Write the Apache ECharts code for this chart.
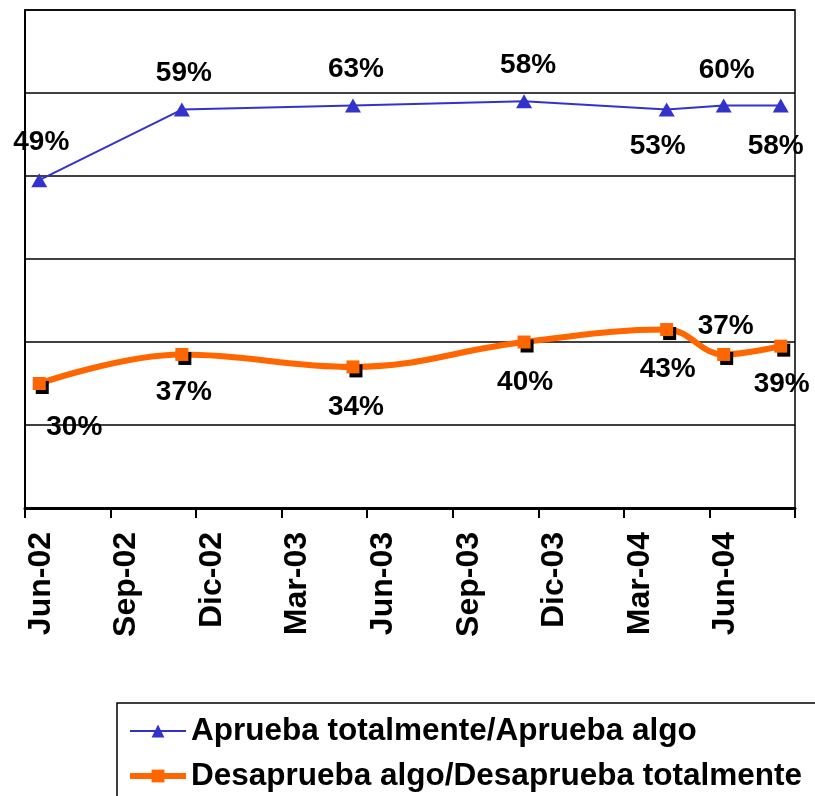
<!DOCTYPE html>
<html>
<head>
<meta charset="utf-8">
<script src="https://cdn.jsdelivr.net/npm/echarts@6/dist/echarts.min.js"></script>
<style>
  html, body { margin: 0; padding: 0; background: #fff; }
  #chart { width: 815px; height: 796px; }
</style>
</head>
<body>
<div id="chart"></div>
<script>
// Survey months (year-month) and results, in percent
const surveyMonths = ['2002-06', '2002-11', '2003-05', '2003-11', '2004-04', '2004-06', '2004-08'];
const aprueba    = [49, 59, 63, 58, 53, 60, 58];
const desaprueba = [30, 37, 34, 40, 43, 37, 39];

// Quarterly tick labels along the time axis, starting at June 2002
const tickLabels = ['Jun-02', 'Sep-02', 'Dic-02', 'Mar-03', 'Jun-03', 'Sep-03', 'Dic-03', 'Mar-04', 'Jun-04'];

const seriesNames = ['Aprueba totalmente/Aprueba algo', 'Desaprueba algo/Desaprueba totalmente'];

// Months elapsed since June 2002; each survey sits in the middle of its month
const startYear = 2002, startMonth = 6;
function monthPos(ym) {
  const [y, m] = ym.split('-').map(Number);
  return (y - startYear) * 12 + (m - startMonth) + 0.5;
}

// Label placement per point: [dx, dy] from the marker centre
const apruebaLabelOffsets    = [[2, -38], [2, -36], [3, -36], [4, -36], [-9, 37], [3, -35], [-5, 41]];
const desapruebaLabelOffsets = [[35, 44], [2, 38], [3, 40], [1, 40], [1, 40], [2, -28], [1, 38]];

// Items are stored as [percent, monthPosition] so that the stack is taken
// on the percent dimension (the first numeric one); encode maps them to y / x.
function buildData(values, offsets) {
  return values.map((v, i) => ({
    value: [v, monthPos(surveyMonths[i])],
    label: { offset: offsets[i] }
  }));
}

const font = 'Liberation Sans, Arial, sans-serif';

const labelStyle = {
  show: true,
  position: 'inside',
  color: '#000',
  fontFamily: font,
  fontWeight: 'bold',
  fontSize: 28,
  formatter: p => p.value[0] + '%'
};

const chart = echarts.init(document.getElementById('chart'), null, { renderer: 'canvas' });

chart.setOption({
  animation: false,
  backgroundColor: '#fff',
  grid: {
    left: 25, right: 20, top: 10, bottom: 288,
    show: true, borderColor: '#000', borderWidth: 1.5, backgroundColor: 'transparent'
  },
  xAxis: {
    type: 'value',
    min: 0, max: 27, interval: 3,
    axisLine: { show: true, lineStyle: { color: '#000', width: 3 } },
    axisTick: { show: true, inside: false, length: 10, lineStyle: { color: '#000', width: 2 } },
    splitLine: { show: false },
    axisLabel: {
      rotate: 90,
      margin: 24,
      verticalAlign: 'top',
      color: '#000',
      fontFamily: font,
      fontWeight: 'bold',
      fontSize: 32,
      formatter: v => tickLabels[Math.round(v / 3)] || ''
    }
  },
  yAxis: {
    type: 'value',
    min: 0, max: 120, interval: 20,
    axisLine: { show: true, lineStyle: { color: '#000', width: 2 } },
    axisTick: { show: false },
    axisLabel: { show: false },
    splitLine: { show: true, lineStyle: { color: '#000', width: 1.5 } }
  },
  legend: {
    data: [
      { name: seriesNames[0] },
      { name: seriesNames[1], lineStyle: { width: 6 } }
    ],
    orient: 'vertical',
    left: 117, top: 703,
    width: 720, height: 110,
    padding: [12, 20, 8, 10],
    itemGap: 13,
    itemWidth: 56, itemHeight: 16,
    borderColor: '#000', borderWidth: 1.5,
    backgroundColor: '#fff',
    textStyle: {
      color: '#000',
      fontFamily: font,
      fontWeight: 'bold',
      fontSize: 31.5
    }
  },
  series: [
    {
      // base of the stack
      name: seriesNames[1],
      type: 'line',
      stack: 'total',
      encode: { x: 1, y: 0 },
      smooth: 0.4,
      symbol: 'rect',
      symbolSize: 13,
      lineStyle: { color: '#FF6600', width: 6 },
      itemStyle: { color: '#FF6600', shadowColor: '#000', shadowOffsetX: 3, shadowOffsetY: 4, shadowBlur: 0 },
      label: labelStyle,
      z: 3,
      data: buildData(desaprueba, desapruebaLabelOffsets)
    },
    {
      name: seriesNames[0],
      type: 'line',
      stack: 'total',
      encode: { x: 1, y: 0 },
      symbol: 'triangle',
      symbolSize: [16, 14],
      lineStyle: { color: '#3333CC', width: 2 },
      itemStyle: { color: '#3333CC' },
      label: labelStyle,
      z: 4,
      data: buildData(aprueba, apruebaLabelOffsets)
    }
  ]
});
</script>
</body>
</html>
